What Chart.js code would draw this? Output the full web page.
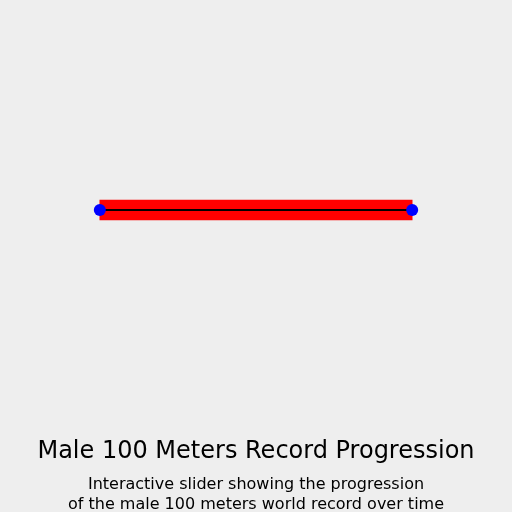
<!DOCTYPE html>
<html>
<head>
<meta charset="utf-8">
<script src="https://cdn.jsdelivr.net/npm/chart.js@4/dist/chart.umd.min.js"></script>
<style>
    html, body { margin: 0; padding: 0; background: #eeeeee; }
    #wrap { width: 512px; height: 512px; }
</style>
</head>
<body>
<div id="wrap"><canvas id="sliderChart"></canvas></div>
<script>
// slider range: first and latest year of the record progression
var rangeYears = [1912, 2009];
var trackLevel = [0, 0];
// visible span of the (hidden) year axis
var axisYears = [1881, 2040];

var titleText = 'Male 100 Meters Record Progression';
var subtitleLines = [
    'Interactive slider showing the progression',
    'of the male 100 meters world record over time'
];

Chart.defaults.font.family = '"DejaVu Sans", sans-serif';
Chart.defaults.color = '#000000';

/*
 * build the {x, y} points of the slider handles
 */
function HandlePoints() {
    var points = [];
    for (var i = 0; i < rangeYears.length; i++) {
        points.push({ x: rangeYears[i], y: trackLevel[i] });
    }
    return points;
}

var ctx = document.getElementById('sliderChart');

var chart = new Chart(ctx, {
    data: {
        datasets: [
            {
                // handles
                type: 'scatter',
                data: HandlePoints(),
                pointRadius: 6,
                pointHoverRadius: 6,
                pointBackgroundColor: '#0000ff',
                pointBorderWidth: 0,
                clip: false,
                order: 0
            },
            {
                // thin black track line
                type: 'line',
                data: HandlePoints(),
                borderColor: '#000000',
                borderWidth: 2,
                pointRadius: 0,
                clip: false,
                order: 1
            },
            {
                // selected range
                type: 'bar',
                indexAxis: 'y',
                data: [{ x: [rangeYears[0], rangeYears[1]], y: trackLevel[0] }],
                backgroundColor: '#ff0000',
                borderWidth: 0,
                barThickness: 20,
                clip: false,
                order: 2
            }
        ]
    },
    options: {
        responsive: true,
        maintainAspectRatio: false,
        animation: false,
        layout: {
            autoPadding: false,
            padding: 0
        },
        scales: {
            x: {
                type: 'linear',
                min: axisYears[0],
                max: axisYears[1],
                display: false
            },
            y: {
                type: 'linear',
                min: -1,
                max: 1,
                display: false
            }
        },
        plugins: {
            legend: { display: false },
            tooltip: { enabled: false },
            title: {
                display: true,
                text: titleText,
                position: 'bottom',
                weight: 1000,
                font: { size: 24, weight: 'normal' },
                padding: { top: 17.6, bottom: 9.2 }
            },
            subtitle: {
                display: true,
                text: subtitleLines,
                position: 'bottom',
                weight: 2000,
                font: { size: 16, weight: 'normal' },
                padding: { top: 0, bottom: -2 }
            }
        }
    }
});
</script>
</body>
</html>
